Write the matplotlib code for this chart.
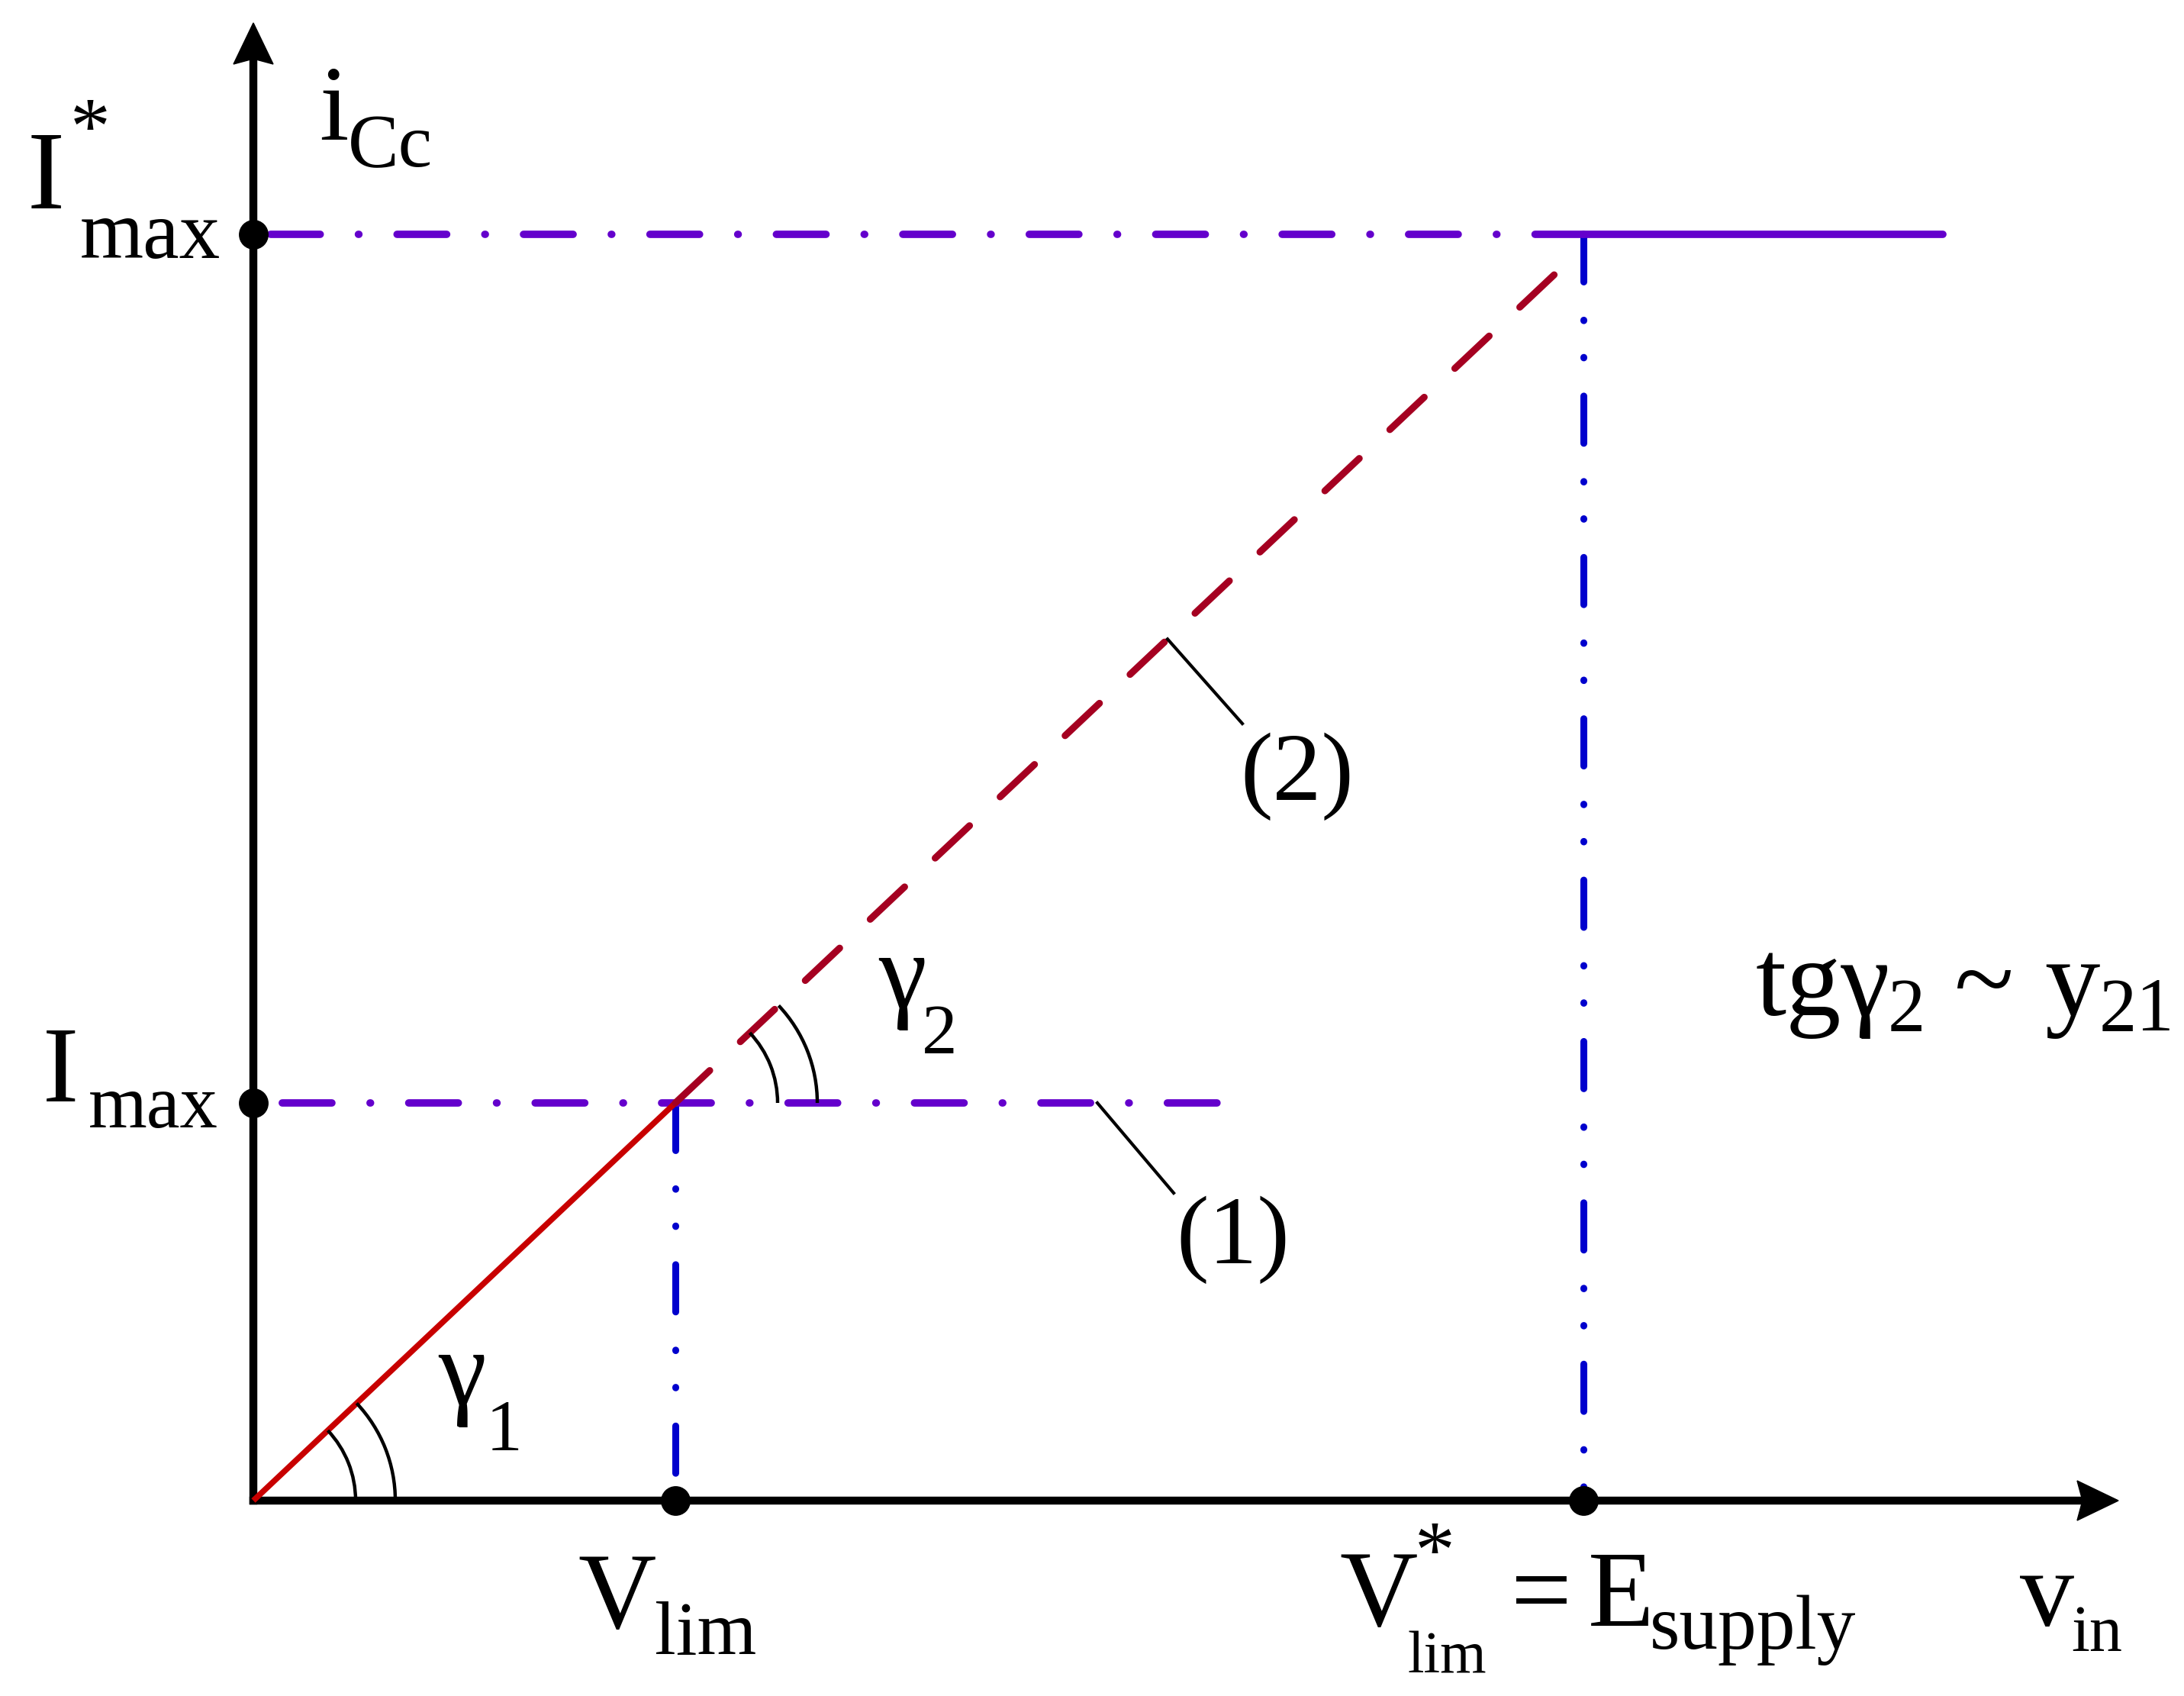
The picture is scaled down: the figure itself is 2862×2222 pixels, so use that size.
import matplotlib
matplotlib.use("Agg")
import matplotlib.pyplot as plt
from matplotlib.patches import Arc, Polygon
import numpy as np

plt.rcParams['lines.scale_dashes'] = False
FONT = ['Liberation Serif', 'DejaVu Serif']

# ---- data (units: figure pixels relative to origin) ----
V_LIM = 553          # x of V_lim
V_STAR = 1743        # x of V*_lim = E_supply
I_MAX = 521          # y of I_max
I_STAR = 1659        # y of I*_max
RED_DASH_END = 1710  # end of dashed extension (2)
TOP_LINE_END = 2214
LOW_LINE_END = 1267
X_AXIS_END = 2444
Y_AXIS_END = 1936

ORIGIN_PX = (332, 1966)   # pixel position of origin in the 2862x2222 image
W, H = 2862, 2222
DPI = 100

PURPLE = '#6400CC'
BLUE = '#0000CD'
RED = '#C80000'
DARKRED = '#A50021'

fig = plt.figure(figsize=(W / DPI, H / DPI), dpi=DPI)
ax = fig.add_axes([0, 0, 1, 1])
ax.set_xlim(-ORIGIN_PX[0], W - ORIGIN_PX[0])
ax.set_ylim(ORIGIN_PX[1] - H, ORIGIN_PX[1])
ax.axis('off')

def P(xa, ya):
    return xa - ORIGIN_PX[0], ORIGIN_PX[1] - ya

# ---- axes with arrows ----
ax.plot([0, X_AXIS_END - 30], [0, 0], color='k', lw=7.5, solid_capstyle='projecting', zorder=2)
ax.plot([0, 0], [0, Y_AXIS_END - 30], color='k', lw=7.5, solid_capstyle='projecting', zorder=2)
L, HW, N = 54, 26, 7
ax.add_patch(Polygon([(X_AXIS_END, 0), (X_AXIS_END - L, HW), (X_AXIS_END - L + N, 0), (X_AXIS_END - L, -HW)],
                     closed=True, color='k', zorder=3))
ax.add_patch(Polygon([(0, Y_AXIS_END), (HW, Y_AXIS_END - L), (0, Y_AXIS_END - L + N), (-HW, Y_AXIS_END - L)],
                     closed=True, color='k', zorder=3))

# ---- purple limit lines ----
purple_ls_low = (92, (46.8, 36, 0.5, 36))
purple_ls_top = (103, (46.8, 36, 0.5, 36))
ax.plot([0, LOW_LINE_END], [I_MAX, I_MAX], color=PURPLE, lw=7, ls=purple_ls_low,
        dash_capstyle='round', zorder=4)
ax.plot([0, V_STAR], [I_STAR, I_STAR], color=PURPLE, lw=7, ls=purple_ls_top,
        dash_capstyle='round', zorder=4)
ax.plot([V_STAR, TOP_LINE_END], [I_STAR, I_STAR], color=PURPLE, lw=7,
        solid_capstyle='round', zorder=4)

# ---- blue vertical projections ----
blue_ls = (0, (44.6, 36, 0.5, 34.6, 0.5, 36))
ax.plot([V_LIM, V_LIM], [I_MAX, 0], color=BLUE, lw=6.5, ls=blue_ls, dash_capstyle='round', zorder=3)
ax.plot([V_STAR, V_STAR], [I_STAR, 0], color=BLUE, lw=6.5, ls=blue_ls, dash_capstyle='round', zorder=3)

# ---- red characteristic ----
slope = I_MAX / V_LIM
ax.plot([0, V_LIM], [0, I_MAX], color=RED, lw=5.5, solid_capstyle='butt', zorder=5)
ax.plot([V_LIM, RED_DASH_END], [I_MAX, slope * RED_DASH_END], color=DARKRED, lw=6.5,
        ls=(0, (44.6, 39.6)), dash_capstyle='round', zorder=5)

# ---- angle arcs ----
ang = np.degrees(np.arctan(slope))
for r in (134, 186):
    ax.add_patch(Arc((0, 0), 2 * r, 2 * r, theta1=0, theta2=ang, color='k', lw=3.2, zorder=6))
    ax.add_patch(Arc((V_LIM, I_MAX), 2 * r, 2 * r, theta1=0, theta2=ang, color='k', lw=3.2, zorder=6))

# ---- leader lines ----
x1 = 1438 - ORIGIN_PX[0]
ax.plot([x1, 1538 - ORIGIN_PX[0]], [I_MAX, ORIGIN_PX[1] - 1563], color='k', lw=3, zorder=6)
x2 = 1530 - ORIGIN_PX[0]
ax.plot([x2, 1628 - ORIGIN_PX[0]], [slope * x2, ORIGIN_PX[1] - 948], color='k', lw=3, zorder=6)

# ---- dots ----
ax.plot([0, 0, V_LIM, V_STAR], [I_MAX, I_STAR, 0, 0], 'o', color='k', ms=28, mew=0, zorder=8)

# ---- text ----
def T(xa, ya, s, size):
    x, y = P(xa, ya)
    ax.text(x, y, s, fontsize=size, family=FONT, ha='left', va='baseline', color='k', zorder=9)

MAIN = 102
# I*max
T(36, 273, 'I', 106); T(92, 201, '*', 76); T(105, 338, 'max', 77)
# i_Cc
T(418, 183, 'i', 100); T(456, 218, 'Cc', 72)
# I_max
T(56, 1443, 'I', MAIN); T(116, 1477, 'max', 71)
# V_lim
T(757, 2133, 'V', MAIN); T(858, 2167, 'lim', 72)
# V*_lim = E_supply
T(1755, 2130, 'V', MAIN); T(1854, 2066, '*', 76); T(1844, 2192, 'lim', 56)
T(1980, 2130, '=', MAIN); T(2081, 2130, 'E', MAIN); T(2162, 2160, 'supply', 73)
# v_in
T(2647, 2130, 'v', MAIN); T(2714, 2163, 'in', 62)
# gamma labels
T(574, 1840, 'γ', MAIN); T(637, 1900, '1', 69)
T(1151, 1320, 'γ', MAIN); T(1208, 1380, '2', 67)
# (1), (2)
T(1541, 1655, '(1)', 92)
T(1625, 1048, '(2)', 92)
# tg gamma2 ~ y21
T(2301, 1330, 'tgγ', 104); T(2474, 1350, '2', 71)
T(2561, 1330, '~', 104)
T(2679, 1330, 'y', 104); T(2751, 1350, '21', 71)

fig.savefig('out.png', dpi=DPI, facecolor='white')
